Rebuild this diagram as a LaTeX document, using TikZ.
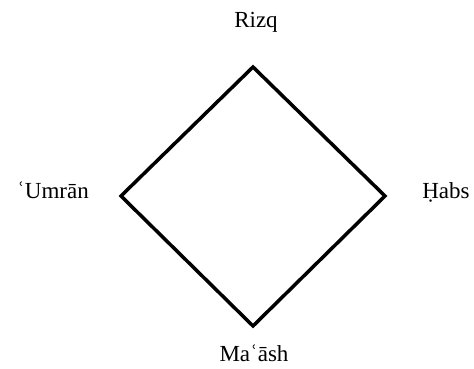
\documentclass[tikz,border=0pt]{standalone}
\usepackage{fontspec}
\setmainfont{Liberation Serif}

\begin{document}
\begin{tikzpicture}[x=1pt,y=-1pt,line join=miter]

  % ---- frame (image px) ----
  \useasboundingbox (0,0) rectangle (474,369);

  \tikzset{
    edge/.style={line width=3.5pt},
    term/.style={font=\fontsize{23}{26}\selectfont,inner sep=0pt,anchor=base}
  }

  % ---- corners of the square ----
  \coordinate (rizqPt)   at (253,67);
  \coordinate (umranPt)  at (121,196);
  \coordinate (habsPt)   at (385,196);
  \coordinate (maashPt)  at (253,326);

  \draw[edge] (rizqPt) -- (habsPt) -- (maashPt) -- (umranPt) -- cycle;

  % ---- terms ----
  \node[term] (rizq)  at (256,28)  {Rizq};
  \node[term] (umran) at (53,198)  {ʿUmrān};
  \node[term] (habs)  at (446,198) {Ḥabs};
  \node[term] (maash) at (254,361) {Maʿāsh};

\end{tikzpicture}
\end{document}
